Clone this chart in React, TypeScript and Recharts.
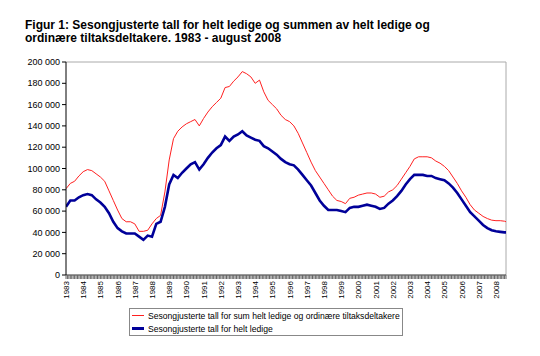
import React from 'react'
import { LineChart, Line, XAxis, YAxis, ReferenceLine } from 'recharts'

// år som vises på x-aksen
const years = [
  1983, 1984, 1985, 1986, 1987, 1988, 1989, 1990, 1991, 1992, 1993, 1994, 1995,
  1996, 1997, 1998, 1999, 2000, 2001, 2002, 2003, 2004, 2005, 2006, 2007, 2008,
]

// kvartalsvise tidspunkt (siste punkt = august 2008)
const times = [
  ...years.slice(0, -1).flatMap((y) => [y, y + 0.25, y + 0.5, y + 0.75]),
  2008, 2008.25, 2008.5, 2008 + 7 / 12,
]

// helt ledige + ordinære tiltaksdeltakere
const sumValues = [
  81000, 86000, 88000, 93000, 97000, 99000, 98000, 95000,
  92000, 88000, 79000, 70000, 61000, 53000, 50000, 50000,
  48000, 41000, 41000, 42000, 48000, 53000, 56000, 78000,
  108000, 128000, 135000, 139000, 142000, 144000, 146000, 140000,
  147000, 153000, 158000, 162000, 166000, 176000, 177000, 182000,
  186000, 191000, 189000, 186000, 180000, 183000, 172000, 164000,
  160000, 156000, 150000, 146000, 144000, 140000, 133000, 124000,
  115000, 106000, 98000, 92000, 86000, 80000, 74000, 70000,
  69000, 67000, 72000, 73000, 75000, 76000, 77000, 77000,
  76000, 73000, 74000, 78000, 80000, 84000, 90000, 96000,
  102000, 109000, 111000, 111000, 111000, 110000, 107000, 105000,
  102000, 98000, 92000, 86000, 79000, 73000, 66000, 61000,
  58000, 55000, 53000, 51500, 51000, 51000, 50500, 50000,
]

// helt ledige
const ledigeValues = [
  64000, 70000, 70000, 73000, 75000, 76000, 75000, 71000,
  68000, 64000, 58000, 50000, 44000, 41000, 39000, 39000,
  39000, 36000, 33000, 37000, 36000, 48000, 50000, 64000,
  85000, 94000, 91000, 96000, 100000, 104000, 106000, 99000,
  104000, 110000, 115000, 119000, 122000, 130000, 126000, 130000,
  132000, 135000, 131000, 129000, 127000, 126000, 121000, 119000,
  116000, 113000, 109000, 106000, 104000, 103000, 99000, 94000,
  89000, 84000, 77000, 70000, 65000, 61000, 61000, 61000,
  60000, 59000, 63000, 64000, 64000, 65000, 66000, 65000,
  64000, 62000, 63000, 67000, 70000, 74000, 79000, 85000,
  90000, 94000, 94000, 94000, 93000, 93000, 91000, 90000,
  89000, 86000, 82000, 77000, 71000, 65000, 59000, 55000,
  51000, 47000, 44000, 42000, 41000, 40500, 40000, 40000,
]

const yTicks = [0, 20000, 40000, 60000, 80000, 100000, 120000, 140000, 160000, 180000, 200000]

const sumLabel = 'Sesongjusterte tall for sum helt ledige og ordinære tiltaksdeltakere'
const ledigeLabel = 'Sesongjusterte tall for helt ledige'

const data = times.map((t, i) => ({ t, sum: sumValues[i], ledige: ledigeValues[i] }))

// månedlige tikk (gir det tette båndet under x-aksen)
const monthTicks = Array.from({ length: 308 }, (_, i) => 1983 + i / 12)
const xEnd = 2008 + 7 / 12

const font = '"Liberation Sans", Arial, sans-serif'

const MonthTick = ({ x, y, payload }: any) => {
  const v = payload.value
  const isYear = Math.abs(v - Math.round(v)) < 1e-6
  return (
    <g>
      <line x1={x} x2={x} y1={y} y2={y + 4} stroke="#666" />
      {isYear && (
        <text
          transform={`translate(${x + 3},${y + 6}) rotate(-90)`}
          textAnchor="end"
          fontSize={8}
          fill="#000"
          fontFamily={font}
        >
          {Math.round(v)}
        </text>
      )}
    </g>
  )
}

const formatY = (v: number) => (v === 0 ? '0' : `${v / 1000} 000`)

export default function App() {
  return (
    <div style={{ position: 'absolute', left: 0, top: 0, width: 540, height: 356, background: '#fff', fontFamily: font }}>
      <div
        style={{
          position: 'absolute',
          left: 25,
          top: 19,
          fontSize: 12,
          lineHeight: '12.5px',
          fontWeight: 'bold',
          color: '#000',
        }}
      >
        Figur 1: Sesongjusterte tall for helt ledige og summen av helt ledige og
        <br />
        ordinære tiltaksdeltakere. 1983 - august 2008
      </div>
      <LineChart
        width={540}
        height={356}
        data={data}
        margin={{ top: 62, right: 34, bottom: 30, left: 0 }}
        style={{ position: 'absolute', left: 0, top: 0 }}
      >
        <XAxis
          dataKey="t"
          type="number"
          domain={[1983, xEnd]}
          ticks={monthTicks}
          interval={0}
          tick={<MonthTick />}
          tickLine={false}
          tickSize={0}
          tickMargin={0}
          height={51}
          axisLine={{ stroke: '#333' }}
          allowDataOverflow
        />
        <YAxis
          type="number"
          domain={[0, 200000]}
          ticks={yTicks}
          interval={0}
          tickFormatter={formatY}
          width={66}
          tickSize={4}
          tickMargin={2}
          tick={{ fontSize: 9, fill: '#000', fontFamily: font }}
          axisLine={{ stroke: '#000' }}
          tickLine={{ stroke: '#000' }}
        />
        <ReferenceLine y={200000} stroke="#aaa" />
        <ReferenceLine x={xEnd} stroke="#aaa" />
        <Line
          dataKey="sum"
          stroke="#ff2020"
          strokeWidth={1}
          dot={false}
          isAnimationActive={false}
        />
        <Line
          dataKey="ledige"
          stroke="#000099"
          strokeWidth={2.6}
          dot={false}
          isAnimationActive={false}
        />
      </LineChart>
      <div
        style={{
          position: 'absolute',
          left: 129,
          top: 308,
          width: 272,
          height: 26,
          border: '1px solid #888',
          fontSize: 8.6,
          color: '#000',
          whiteSpace: 'nowrap',
          overflow: 'hidden',
        }}
      >
        <div style={{ display: 'flex', alignItems: 'center', height: 13 }}>
          <div style={{ width: 12, height: 1, background: '#ff2020', marginLeft: 2, marginRight: 4, flexShrink: 0 }} />
          <span>{sumLabel}</span>
        </div>
        <div style={{ display: 'flex', alignItems: 'center', height: 13 }}>
          <div style={{ width: 12, height: 2.5, background: '#000099', marginLeft: 2, marginRight: 4, flexShrink: 0 }} />
          <span>{ledigeLabel}</span>
        </div>
      </div>
    </div>
  )
}
